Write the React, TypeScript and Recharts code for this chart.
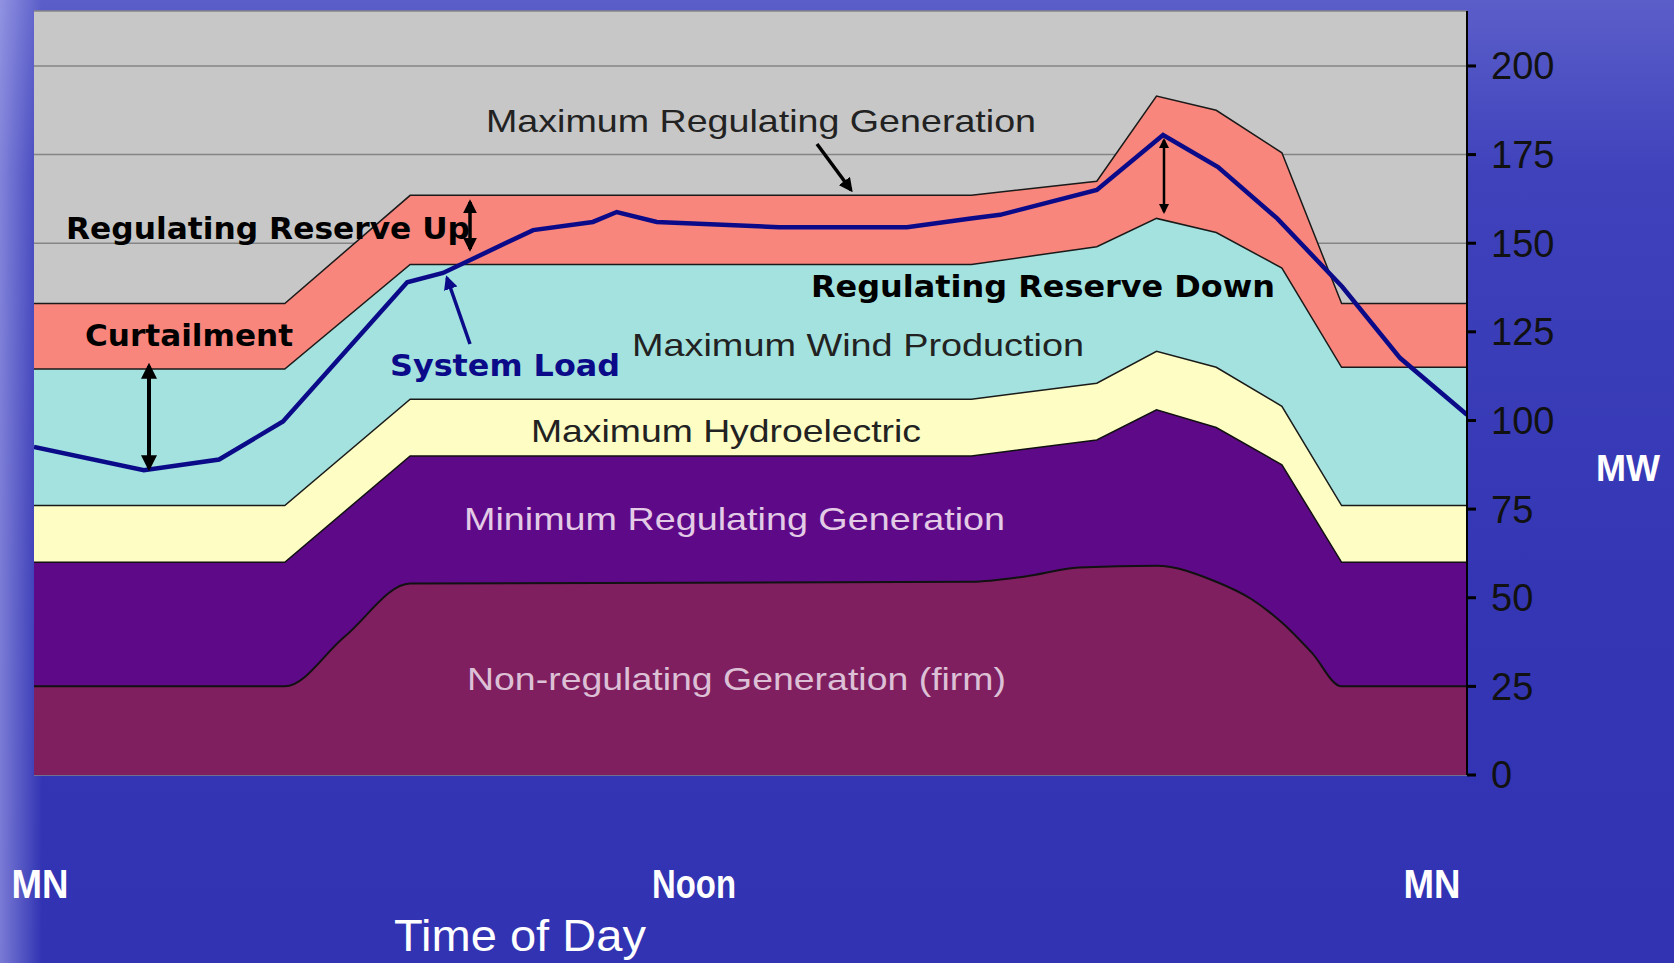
import React from "react";
import { Area, CartesianGrid, ComposedChart, Line, XAxis, YAxis } from "recharts";

// hour of day -> MW
const hours = [0, 4.2, 6.3, 15.7, 17.8, 18.8, 19.8, 20.9, 21.9, 24];
const reserveTop = [133, 133, 163.5, 163.5, 167.5, 191.5, 187.5, 175.5, 133, 133];
const windTop = [114.5, 114.5, 144, 144, 149, 157, 153, 143, 115, 115];
const hydroTop = [76, 76, 106, 106, 110.5, 119.5, 115, 104, 76, 76];
const minRegTop = [60, 60, 90, 90, 94.5, 103, 98, 87.5, 60, 60];

const firmHours = [0, 4.2, 5.2, 6.3, 15.7, 16.6, 17.5, 18.8, 19.8, 20.4, 20.9, 21.4, 21.9, 24];
const firmTop = [25, 25, 39, 54, 54.5, 56, 58.5, 59, 54.5, 49.5, 43, 34.5, 25, 25];

const loadHours = [0, 1.84, 3.1, 4.17, 6.25, 6.85, 8.36, 9.36, 9.76, 10.43, 12.48, 14.62, 15.69, 16.18, 17.8, 18.91, 19.83, 20.82, 21.91, 22.88, 24];
const systemLoad = [92.5, 86, 89, 99.7, 139, 141.6, 153.7, 156, 158.8, 156, 154.5, 154.5, 157, 158, 165, 180.5, 171.5, 157, 137.7, 117.6, 101.6];

const yTicks = [0, 25, 50, 75, 100, 125, 150, 175, 200];

const areaRows = hours.map((h, i) => ({
  h,
  reserve: reserveTop[i],
  wind: windTop[i],
  hydro: hydroTop[i],
  minReg: minRegTop[i]
}));
const firmRows = firmHours.map((h, i) => ({ h, firm: firmTop[i] }));
const loadRows = loadHours.map((h, i) => ({ h, load: systemLoad[i] }));

const W = 1674;
const H = 963;

function Notes() {
  const plain = { fontFamily: "'Liberation Sans', Arial, sans-serif", fontSize: 32 };
  const heavy = { fontFamily: "'DejaVu Sans', Verdana, sans-serif", fontSize: 30, fontWeight: 700 };
  const slide = { fontFamily: "'Liberation Sans', Arial, sans-serif", fontSize: 40, fontWeight: 700 };
  return (
    <svg width={W} height={H} style={{ position: "absolute", left: 0, top: 0, pointerEvents: "none" }}>
      <defs>
        <marker id="hd" viewBox="0 0 10 10" refX="8" refY="5" markerWidth="4" markerHeight="4" orient="auto-start-reverse">
          <path d="M0,0 L10,5 L0,10 z" fill="#000" />
        </marker>
        <marker id="hdNavy" viewBox="0 0 10 10" refX="8" refY="5" markerWidth="4" markerHeight="4" orient="auto-start-reverse">
          <path d="M0,0 L10,5 L0,10 z" fill="#0b0b8a" />
        </marker>
      </defs>

      <text x={486} y={121} dominantBaseline="central" fill="#222" textLength={550} lengthAdjust="spacingAndGlyphs" style={plain}>
        Maximum Regulating Generation
      </text>
      <line x1={817} y1={144} x2={851} y2={190} stroke="#000" strokeWidth={3.5} markerEnd="url(#hd)" />

      <text x={66} y={228} dominantBaseline="central" fill="#000" textLength={404} lengthAdjust="spacingAndGlyphs" style={heavy}>
        Regulating Reserve Up
      </text>
      <line x1={470} y1={202} x2={470} y2={249} stroke="#000" strokeWidth={3.5} markerStart="url(#hd)" markerEnd="url(#hd)" />

      <text x={85} y={335} dominantBaseline="central" fill="#000" textLength={208} lengthAdjust="spacingAndGlyphs" style={heavy}>
        Curtailment
      </text>
      <line x1={149} y1={366} x2={149} y2={468} stroke="#000" strokeWidth={4} markerStart="url(#hd)" markerEnd="url(#hd)" />

      <text x={390} y={365} dominantBaseline="central" fill="#0b0b8a" textLength={230} lengthAdjust="spacingAndGlyphs" style={heavy}>
        System Load
      </text>
      <line x1={470} y1={344} x2={447} y2={278} stroke="#0b0b8a" strokeWidth={3.5} markerEnd="url(#hdNavy)" />

      <text x={632} y={345} dominantBaseline="central" fill="#222" textLength={452} lengthAdjust="spacingAndGlyphs" style={plain}>
        Maximum Wind Production
      </text>
      <text x={811} y={286} dominantBaseline="central" fill="#000" textLength={464} lengthAdjust="spacingAndGlyphs" style={heavy}>
        Regulating Reserve Down
      </text>
      <line x1={1164} y1={140} x2={1164} y2={212} stroke="#000" strokeWidth={2.5} markerStart="url(#hd)" markerEnd="url(#hd)" />

      <text x={531} y={431} dominantBaseline="central" fill="#222" textLength={390} lengthAdjust="spacingAndGlyphs" style={plain}>
        Maximum Hydroelectric
      </text>
      <text x={464} y={519} dominantBaseline="central" fill="#e3cbe6" textLength={541} lengthAdjust="spacingAndGlyphs" style={plain}>
        Minimum Regulating Generation
      </text>
      <text x={467} y={679} dominantBaseline="central" fill="#dcc0d6" textLength={539} lengthAdjust="spacingAndGlyphs" style={plain}>
        Non-regulating Generation (firm)
      </text>

      {/* slide text round the chart */}
      <text x={1628} y={468} textAnchor="middle" dominantBaseline="central" fill="#fff" textLength={64} lengthAdjust="spacingAndGlyphs"
        style={{ ...slide, fontSize: 36 }}>
        MW
      </text>
      <text x={40} y={884} textAnchor="middle" dominantBaseline="central" fill="#fff" textLength={57} lengthAdjust="spacingAndGlyphs" style={slide}>
        MN
      </text>
      <text x={694} y={884} textAnchor="middle" dominantBaseline="central" fill="#fff" textLength={84} lengthAdjust="spacingAndGlyphs" style={slide}>
        Noon
      </text>
      <text x={1432} y={884} textAnchor="middle" dominantBaseline="central" fill="#fff" textLength={57} lengthAdjust="spacingAndGlyphs" style={slide}>
        MN
      </text>
      <text x={520} y={935} textAnchor="middle" dominantBaseline="central" fill="#fff" textLength={252} lengthAdjust="spacingAndGlyphs"
        style={{ fontFamily: "'Liberation Sans', Arial, sans-serif", fontSize: 45 }}>
        Time of Day
      </text>
    </svg>
  );
}

export default function App() {
  return (
    <div
      style={{
        position: "absolute",
        left: 0,
        top: 0,
        width: W,
        height: H,
        overflow: "hidden",
        background:
          "linear-gradient(90deg, rgba(210,210,255,0.45) 0%, rgba(120,120,220,0) 2.5%), linear-gradient(180deg, #5b5ec9 0%, #3f42bb 18%, #3436b4 60%, #3133b3 100%)"
      }}
    >
      <ComposedChart width={W} height={H} data={areaRows} margin={{ top: 11, right: 107, bottom: 188, left: 34 }}>
        <CartesianGrid vertical={false} fill="#c7c7c7" stroke="#858585" strokeWidth={1.5} fillOpacity={1} />
        <XAxis type="number" dataKey="h" domain={[0, 24]} hide allowDataOverflow />
        <YAxis
          type="number"
          orientation="right"
          width={100}
          domain={[0, 215.5]}
          ticks={yTicks}
          allowDataOverflow
          axisLine={{ stroke: "#000", strokeWidth: 2 }}
          tickLine={{ stroke: "#000", strokeWidth: 3 }}
          tickSize={9}
          tickMargin={15}
          tick={{ fill: "#111", fontSize: 38, fontFamily: "'Liberation Sans', Arial, sans-serif" }}
        />
        <Area type="linear" dataKey="reserve" fill="#f8867c" fillOpacity={1} stroke="#1a1a1a" strokeWidth={1.5} isAnimationActive={false} />
        <Area type="linear" dataKey="wind" fill="#a3e2de" fillOpacity={1} stroke="#1a1a1a" strokeWidth={1.5} isAnimationActive={false} />
        <Area type="linear" dataKey="hydro" fill="#fdfdc4" fillOpacity={1} stroke="#1a1a1a" strokeWidth={1.5} isAnimationActive={false} />
        <Area type="linear" dataKey="minReg" fill="#5e0a88" fillOpacity={1} stroke="#111" strokeWidth={1.5} isAnimationActive={false} />
        <Area type="monotone" data={firmRows} dataKey="firm" fill="#7f1f5f" fillOpacity={1} stroke="#111" strokeWidth={2} isAnimationActive={false} />
        <Line type="linear" data={loadRows} dataKey="load" stroke="#0b0b8a" strokeWidth={4.5} dot={false} isAnimationActive={false} />
      </ComposedChart>
      <Notes />
    </div>
  );
}
